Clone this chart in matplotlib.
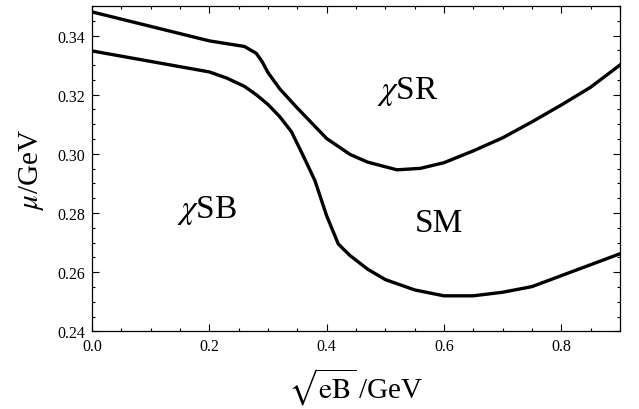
import numpy as np
import matplotlib
matplotlib.use("Agg")
import matplotlib.pyplot as plt
from matplotlib.ticker import MultipleLocator

plt.rcParams['font.family'] = ['Liberation Serif', 'DejaVu Serif']
plt.rcParams['mathtext.fontset'] = 'stix'

# phase boundaries
x_upper = [0.0, 0.2, 0.26, 0.28, 0.29, 0.30, 0.32, 0.35, 0.40, 0.44, 0.47,
           0.52, 0.56, 0.60, 0.65, 0.70, 0.75, 0.80, 0.85, 0.90]
mu_upper = [0.3480, 0.3382, 0.3363, 0.3340, 0.3312, 0.3275, 0.3220, 0.3155,
            0.3052, 0.2998, 0.2972, 0.2946, 0.2951, 0.2970, 0.3010, 0.3054,
            0.3108, 0.3165, 0.3225, 0.3300]

x_lower = [0.0, 0.2, 0.23, 0.26, 0.28, 0.30, 0.32, 0.34, 0.36, 0.38, 0.40, 0.42,
           0.44, 0.47, 0.50, 0.55, 0.60, 0.65, 0.70, 0.75, 0.80, 0.85, 0.90]
mu_lower = [0.3348, 0.3277, 0.3256, 0.3228, 0.3200, 0.3167, 0.3126, 0.3075, 0.2994,
            0.2910, 0.2791, 0.2695, 0.2656, 0.2610, 0.2575, 0.2540, 0.2520,
            0.2520, 0.2532, 0.2551, 0.2588, 0.2625, 0.2662]

regions = [(r'$\chi$SR', 0.539, 0.3189), (r'$\chi$SB', 0.196, 0.2786), ('SM', 0.592, 0.2739)]

fig = plt.figure(figsize=(6.39, 4.10), dpi=100)
ax = fig.add_axes([0.144, 0.1895, 0.826, 0.7935])

ax.plot(x_upper, mu_upper, color='black', lw=2.4, solid_joinstyle='round')
ax.plot(x_lower, mu_lower, color='black', lw=2.4, solid_joinstyle='round')

for txt, x, y in regions:
    ax.text(x, y, txt, fontsize=24, ha='center', va='baseline')

ax.set_xlim(0, 0.9)
ax.set_ylim(0.24, 0.35)
ax.xaxis.set_major_locator(MultipleLocator(0.2))
ax.xaxis.set_minor_locator(MultipleLocator(0.05))
ax.yaxis.set_major_locator(MultipleLocator(0.02))
ax.yaxis.set_minor_locator(MultipleLocator(0.005))
ax.xaxis.set_major_formatter(plt.FormatStrFormatter('%.1f'))
ax.yaxis.set_major_formatter(plt.FormatStrFormatter('%.2f'))
ax.tick_params(which='both', direction='in', top=True, right=True, labelsize=11.5, pad=5)
ax.tick_params(which='major', length=5, width=0.8)
ax.tick_params(which='minor', length=2.5, width=0.8)
for s in ax.spines.values():
    s.set_linewidth(0.9)

ax.set_xlabel(r'$\sqrt{\mathrm{eB}}\,$/GeV', fontsize=21, labelpad=8)
ax.set_ylabel(r'$\mu$/GeV', fontsize=21, labelpad=8)

plt.savefig('out.png', dpi=100)
